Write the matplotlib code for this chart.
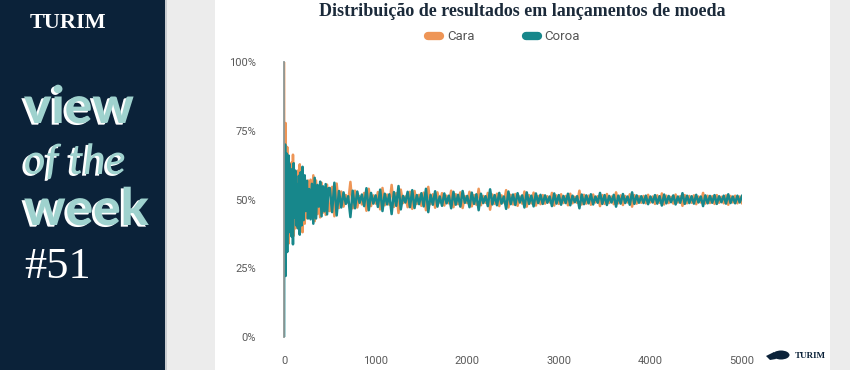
import matplotlib
matplotlib.use("Agg")
import matplotlib.pyplot as plt
import matplotlib.patheffects as pe
from matplotlib.lines import Line2D
from matplotlib.patches import Rectangle, Ellipse, Polygon

# ---------------- data ----------------
tosses_early = [1, 2, 3, 4, 5, 6, 8, 10, 12, 15,
                18, 21, 25, 30, 35, 40, 45, 50, 56, 62,
                68, 75, 82, 90, 98, 106, 115, 124, 133, 142,
                152, 162, 172, 182, 192, 202, 214, 226, 238, 250,
                262, 275, 290, 305, 320, 335, 350, 365, 380, 395,
                410, 425, 440, 455, 470, 485]
tosses_late = list(range(500, 5001, 25))
tosses = tosses_early + tosses_late

cara = [100, 50, 33.3, 75, 40, 66.7, 37.5, 70, 30, 73.3,
        77.8, 33.3, 58.4, 33.3, 69.1, 37.5, 62.2, 34, 57.1, 37.1,
        61.8, 42.7, 63.4, 38.9, 66.3, 36.8, 56.5, 39.5, 59.4, 44.4,
        60.5, 41.4, 62.8, 40.1, 59.4, 38.1, 57.5, 41.2, 54.2, 43.2,
        56.9, 46.2, 57.2, 44.3, 58.8, 42.1, 56.9, 44.7, 52.6, 43.5,
        56.1, 45.2, 54.3, 44.4, 55.4, 45.9,
        45.8, 54.6, 43.9, 55.8, 46.9,
        52.9, 47.4, 51.6, 48.8, 56.4, 46.8, 53.2, 47.1, 51.2, 48.2,
        52.4, 45.9, 53.9, 47.6, 51.5, 48.5, 52.7, 46.4, 54.2, 47.9,
        51.8, 48.1, 55.3, 47.3, 52.3, 45.1, 53.6, 48.7, 51.1, 47.2,
        52.8, 46.6, 53.1, 48.4, 51.7, 47.7, 52.5, 46.1, 54.6, 48.3,
        51.9, 47.0, 52.6, 48.9,
        52.3, 47.8, 51.4, 48.6, 53.2, 47.2, 51.9, 48.3, 52.6, 46.9,
        51.2, 48.7, 52.8, 47.5, 51.6, 48.1, 53.9, 47.9, 51.3, 48.8,
        52.4, 46.3, 51.8, 48.4, 52.1, 47.6, 51.5, 48.9, 53.4, 47.1,
        51.7, 48.2, 52.0, 47.7, 51.1, 48.5, 52.9, 47.4, 51.6, 48.6,
        52.5, 47.8, 51.3, 48.3,
        51.6, 48.5, 51.2, 48.9, 52.4, 47.8, 51.5, 48.4, 51.9, 48.7,
        51.3, 47.9, 52.1, 48.6, 51.0, 48.8, 53.2, 48.2, 51.7, 48.5,
        51.4, 48.1, 51.8, 48.9, 51.2, 47.6, 51.6, 48.4, 52.0, 48.7,
        51.1, 48.3, 52.6, 48.6, 51.5, 48.0, 51.3, 48.9, 51.9, 47.4,
        51.6, 48.5, 51.2, 48.8,
        51.3, 48.6, 51.7, 48.9, 51.1, 48.4, 51.5, 48.8, 52.2, 48.2,
        51.4, 48.7, 51.0, 48.5, 51.8, 48.9, 51.2, 47.7, 51.6, 48.6,
        51.3, 48.8, 51.5, 48.3, 51.1, 48.9, 52.4, 48.5, 51.4, 48.7,
        51.2, 48.4, 51.6, 48.8, 51.0, 48.6, 51.5, 48.1, 51.3, 48.9,
        51.4, 48.6, 51.1, 48.7]

coroa = [0, 50, 66.7, 25, 60, 33.3, 62.5, 30, 70, 26.7,
         22.2, 66.7, 41.6, 66.7, 30.9, 62.5, 37.8, 66, 42.9, 62.9,
         38.2, 57.3, 36.6, 61.1, 33.7, 63.2, 43.5, 60.5, 40.6, 55.6,
         39.5, 58.6, 37.2, 59.9, 40.6, 61.9, 42.5, 58.8, 45.8, 56.8,
         43.1, 53.8, 42.8, 55.7, 41.2, 57.9, 43.1, 55.3, 47.4, 56.5,
         43.9, 54.8, 45.7, 55.6, 44.6, 54.1,
         54.2, 45.4, 56.1, 44.2, 53.1,
         47.1, 52.6, 48.4, 51.2, 43.6, 53.2, 46.8, 52.9, 48.8, 51.8,
         47.6, 54.1, 46.1, 52.4, 48.5, 51.5, 47.3, 53.6, 45.8, 52.1,
         48.2, 51.9, 44.7, 52.7, 47.7, 54.9, 46.4, 51.3, 48.9, 52.8,
         47.2, 53.4, 46.9, 51.6, 48.3, 52.3, 47.5, 53.9, 45.4, 51.7,
         48.1, 53.0, 47.4, 51.1,
         47.7, 52.2, 48.6, 51.4, 46.8, 52.8, 48.1, 51.7, 47.4, 53.1,
         48.8, 51.3, 47.2, 52.5, 48.4, 51.9, 46.1, 52.1, 48.7, 51.2,
         47.6, 53.7, 48.2, 51.6, 47.9, 52.4, 48.5, 51.1, 46.6, 52.9,
         48.3, 51.8, 48.0, 52.3, 48.9, 51.5, 47.1, 52.6, 48.4, 51.4,
         47.5, 52.2, 48.7, 51.7,
         48.4, 51.5, 48.8, 51.1, 47.6, 52.2, 48.5, 51.6, 48.1, 51.3,
         48.7, 52.1, 47.9, 51.4, 49.0, 51.2, 46.8, 51.8, 48.3, 51.5,
         48.6, 51.9, 48.2, 51.1, 48.8, 52.4, 48.4, 51.6, 48.0, 51.3,
         48.9, 51.7, 47.4, 51.4, 48.5, 52.0, 48.7, 51.1, 48.1, 52.6,
         48.4, 51.5, 48.8, 51.2,
         48.7, 51.4, 48.3, 51.1, 48.9, 51.6, 48.5, 51.2, 47.8, 51.8,
         48.6, 51.3, 49.0, 51.5, 48.2, 51.1, 48.8, 52.3, 48.4, 51.4,
         48.7, 51.2, 48.5, 51.7, 48.9, 51.1, 47.6, 51.5, 48.6, 51.3,
         48.8, 51.6, 48.4, 51.2, 49.0, 51.4, 48.5, 51.9, 48.7, 51.1,
         48.6, 51.4, 48.9, 51.3]

series_names = ["Cara", "Coroa"]
y_ticks = [0, 25, 50, 75, 100]
x_ticks = [0, 1000, 2000, 3000, 4000, 5000]
title = "Distribuição de resultados em lançamentos de moeda"

# ---------------- style ----------------
W, H = 850, 370
NAVY = "#0b2239"
ORANGE = "#ee9556"
TEAL = "#17878b"
BG = "#ececec"


def fx(px):
    return px / W


def fy(py):
    return 1 - py / H


fig = plt.figure(figsize=(W / 100, H / 100), dpi=100)
fig.patch.set_facecolor(BG)

# left navy panel and white card
fig.add_artist(Rectangle((0, 0), fx(165), 1, transform=fig.transFigure,
                         facecolor=NAVY, edgecolor="none", zorder=0))
fig.add_artist(Rectangle((fx(165), 0), fx(2), 1, transform=fig.transFigure,
                         facecolor="#c9ccd0", edgecolor="none", zorder=0))
fig.add_artist(Rectangle((fx(215), 0), fx(830) - fx(215), 1,
                         transform=fig.transFigure, facecolor="white",
                         edgecolor="none", zorder=0))

# left panel texts
fig.text(fx(68), fy(28), "TURIM", color="white", fontsize=16,
         family="Liberation Serif", fontweight="bold", ha="center", va="baseline")

shadow = [pe.SimplePatchShadow(offset=(-2, -1.2), shadow_rgbFace="white", alpha=1.0),
          pe.Normal()]
LIGHT_TEAL = "#9fd2ce"
fig.text(fx(24), fy(123), "view", color=LIGHT_TEAL, fontsize=37, family="Lato",
         fontweight="black", ha="left", va="baseline", path_effects=shadow)
fig.text(fx(24), fy(174), "of the", color=LIGHT_TEAL, fontsize=30, family="Lato",
         style="italic", fontweight="medium", ha="left", va="baseline",
         path_effects=shadow)
fig.text(fx(24), fy(225), "week", color=LIGHT_TEAL, fontsize=37, family="Lato",
         fontweight="black", ha="left", va="baseline", path_effects=shadow)
fig.text(fx(24), fy(278), "#51", color="white", fontsize=32,
         family="Liberation Serif", fontweight="normal", ha="left", va="baseline")

# title
fig.text(fx(522), fy(11), title, color="#1b2a3a", fontsize=13,
         family="Liberation Serif", fontweight="bold", ha="center", va="center")

# bottom-right logo (small bull silhouette + name)
fig.add_artist(Ellipse((fx(781), fy(355)), fx(17), 9 / H, transform=fig.transFigure,
                       facecolor=NAVY, edgecolor="none"))
fig.add_artist(Polygon([(fx(766), fy(356)), (fx(774), fy(352)), (fx(776), fy(359)),
                        (fx(770), fy(360))], closed=True, transform=fig.transFigure,
                       facecolor=NAVY, edgecolor="none"))
fig.text(fx(810), fy(356), "TURIM", color=NAVY, fontsize=6.5,
         family="Liberation Serif", fontweight="bold", ha="center", va="center")

# ---------------- chart ----------------
ax = fig.add_axes([fx(284), fy(337), fx(742) - fx(284), fy(62) - fy(337)])
ax.set_facecolor("none")
ax.plot(tosses, cara, color=ORANGE, lw=1.8, zorder=2)
ax.plot(tosses, coroa, color=TEAL, lw=1.8, zorder=2.1)

ax.set_xlim(0, 5000)
ax.set_ylim(0, 100)
ax.set_yticks(y_ticks)
ax.set_yticklabels([f"{v}%" for v in y_ticks])
ax.set_xticks(x_ticks)
ax.set_xticklabels([str(v) for v in x_ticks])
ax.tick_params(axis="both", length=0, labelsize=8, labelcolor="#5a5a5a")
ax.tick_params(axis="y", pad=20)
ax.tick_params(axis="x", pad=14)
for lab in ax.get_xticklabels() + ax.get_yticklabels():
    lab.set_family("Roboto")
for s in ["top", "right", "bottom"]:
    ax.spines[s].set_visible(False)
ax.spines["left"].set_color("#8e9795")
ax.spines["left"].set_linewidth(1.3)
ax.spines["left"].set_zorder(3)

handles = [Line2D([], [], color=ORANGE, lw=6, solid_capstyle="round"),
           Line2D([], [], color=TEAL, lw=6, solid_capstyle="round")]
leg = fig.legend(handles, series_names, loc="center", ncol=2,
                 bbox_to_anchor=(fx(504), fy(37)), frameon=False,
                 handlelength=0.9, handletextpad=0.5, columnspacing=3.9,
                 prop={"family": "Roboto", "size": 9.5})
for t in leg.get_texts():
    t.set_color("#555555")

fig.savefig("out.png", dpi=100, facecolor=fig.get_facecolor())
